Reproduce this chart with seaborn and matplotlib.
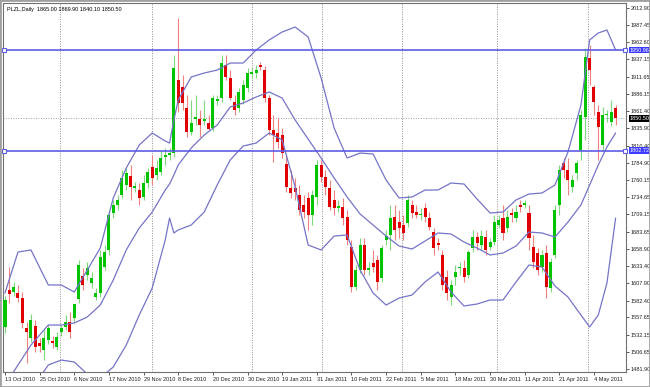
import numpy as np
import pandas as pd
import matplotlib
matplotlib.use("Agg")
import matplotlib.pyplot as plt
import matplotlib.transforms as mtransforms
from matplotlib.patches import Rectangle
import seaborn as sns

# ================================
# DATA
# ================================
header = "PLZL,Daily  1865.00 1869.90 1840.10 1850.50"

date_labels = ["13 Oct 2010", "25 Oct 2010", "6 Nov 2010", "17 Nov 2010", "29 Nov 2010",
               "8 Dec 2010", "20 Dec 2010", "30 Dec 2010", "19 Jan 2011", "31 Jan 2011",
               "10 Feb 2011", "22 Feb 2011", "5 Mar 2011", "18 Mar 2011", "30 Mar 2011",
               "11 Apr 2011", "21 Apr 2011", "4 May 2011"]
label_bars = list(range(0, 137, 8))

opens = [
    1543.5, 1597.9, 1595.0, 1593.5, 1586.1, 1542.0, 1527.3, 1545.0, 1520.0, 1509.7,
    1524.4, 1522.9, 1514.1, 1536.1, 1543.5, 1550.8, 1556.7, 1584.7, 1618.5, 1620.0,
    1608.2, 1587.6, 1593.5, 1631.7, 1656.8, 1711.2, 1723.0, 1737.7, 1752.4, 1765.6,
    1748.0, 1745.0, 1734.7, 1755.3, 1778.9, 1767.1, 1771.5, 1793.5, 1796.5, 1799.4,
    1906.8, 1896.5, 1865.6, 1830.3, 1849.5, 1849.5, 1846.5, 1843.6, 1836.2, 1875.9,
    1880.3, 1928.9, 1909.8, 1874.5, 1865.6, 1877.4, 1895.1, 1915.6, 1917.1, 1928.9,
    1921.5, 1880.3, 1833.3, 1828.9, 1825.9, 1783.3, 1748.0, 1748.0, 1737.7, 1723.0,
    1733.3, 1708.2, 1734.7, 1781.8, 1764.1, 1748.0, 1730.3, 1718.5, 1720.0, 1705.3,
    1661.2, 1602.3, 1627.3, 1664.1, 1627.3, 1637.6, 1642.0, 1615.6, 1671.5, 1678.8,
    1705.3, 1697.9, 1693.5, 1696.5, 1723.0, 1712.6, 1708.2, 1718.5, 1703.8, 1683.2,
    1667.1, 1649.4, 1617.0, 1587.6, 1617.0, 1630.3, 1630.3, 1620.0, 1659.7, 1675.9,
    1664.1, 1675.9, 1661.2, 1668.5, 1693.5, 1703.8, 1689.1, 1711.2, 1703.8, 1723.0,
    1723.0, 1711.2, 1661.2, 1652.3, 1631.7, 1652.3, 1600.9, 1649.4, 1723.0, 1784.7,
    1774.4, 1749.4, 1770.0, 1803.9, 1852.4, 1939.2, 1896.5, 1859.8, 1811.2, 1855.0,
    1845.0, 1865.0]

highs = [
    1589.1, 1631.7, 1609.7, 1605.3, 1595.0, 1550.8, 1562.6, 1553.8, 1527.3, 1539.1,
    1546.4, 1530.2, 1536.1, 1546.4, 1561.1, 1565.5, 1575.8, 1642.0, 1630.3, 1639.1,
    1624.4, 1600.9, 1656.8, 1664.1, 1715.6, 1730.3, 1737.7, 1774.4, 1777.4, 1781.8,
    1756.8, 1755.3, 1767.1, 1777.4, 1796.5, 1789.1, 1803.9, 1806.8, 1806.8, 1943.6,
    1998.0, 1914.2, 1884.8, 1877.4, 1884.8, 1862.7, 1877.4, 1855.3, 1884.8, 1884.8,
    1943.6, 1943.6, 1921.5, 1884.8, 1895.1, 1906.8, 1924.5, 1924.5, 1928.9, 1933.3,
    1927.4, 1884.8, 1855.3, 1850.9, 1836.2, 1796.5, 1774.4, 1762.7, 1752.4, 1737.7,
    1742.1, 1745.0, 1789.1, 1789.1, 1774.4, 1759.7, 1745.0, 1730.3, 1733.3, 1715.6,
    1671.5, 1634.7, 1674.4, 1674.4, 1639.1, 1656.8, 1649.4, 1664.1, 1686.2, 1723.0,
    1723.0, 1715.6, 1708.2, 1737.7, 1730.3, 1723.0, 1718.5, 1725.9, 1712.6, 1689.1,
    1674.4, 1656.8, 1627.3, 1612.6, 1634.7, 1639.1, 1642.0, 1656.8, 1686.2, 1683.2,
    1686.2, 1686.2, 1674.4, 1708.2, 1708.2, 1723.0, 1715.6, 1718.5, 1723.0, 1730.3,
    1730.3, 1723.0, 1678.8, 1659.7, 1656.8, 1664.1, 1645.0, 1723.0, 1781.8, 1792.1,
    1792.1, 1767.1, 1789.1, 1862.7, 1953.9, 1958.3, 1899.5, 1870.0, 1867.1, 1862.0,
    1877.4, 1869.9]

lows = [
    1534.7, 1578.8, 1589.1, 1580.3, 1542.0, 1490.5, 1521.4, 1506.7, 1506.7, 1494.9,
    1518.5, 1512.6, 1509.7, 1530.2, 1539.1, 1527.3, 1550.8, 1578.8, 1597.9, 1612.6,
    1600.9, 1583.2, 1587.6, 1627.3, 1649.4, 1703.8, 1715.6, 1733.3, 1745.0, 1730.3,
    1742.1, 1723.0, 1730.3, 1748.0, 1752.4, 1759.7, 1767.1, 1781.8, 1789.1, 1793.5,
    1859.8, 1862.7, 1823.0, 1825.9, 1840.6, 1823.0, 1840.6, 1833.3, 1831.8, 1870.0,
    1874.5, 1906.8, 1877.4, 1855.3, 1859.8, 1871.5, 1889.2, 1909.8, 1909.8, 1921.5,
    1874.5, 1825.9, 1786.2, 1806.8, 1792.1, 1742.1, 1733.3, 1730.3, 1708.2, 1703.8,
    1686.2, 1693.5, 1723.0, 1756.8, 1737.7, 1715.6, 1708.2, 1712.6, 1693.5, 1664.1,
    1595.0, 1597.9, 1622.9, 1620.0, 1620.0, 1624.4, 1597.9, 1609.7, 1664.1, 1656.8,
    1671.5, 1674.4, 1671.5, 1690.6, 1703.8, 1703.8, 1700.9, 1697.9, 1686.2, 1649.4,
    1656.8, 1597.9, 1583.2, 1575.8, 1605.3, 1620.0, 1609.7, 1615.6, 1653.8, 1656.8,
    1656.8, 1649.4, 1656.8, 1664.1, 1689.1, 1671.5, 1683.2, 1697.9, 1697.9, 1712.6,
    1718.5, 1656.8, 1630.3, 1620.0, 1624.4, 1586.1, 1595.0, 1645.0, 1708.2, 1762.7,
    1737.7, 1742.1, 1759.7, 1789.1, 1818.6, 1899.5, 1855.3, 1789.1, 1803.9, 1845.0,
    1839.2, 1840.1]

closes = [
    1583.2, 1592.0, 1602.3, 1586.1, 1549.4, 1536.1, 1553.8, 1514.1, 1515.5, 1527.3,
    1542.0, 1520.0, 1528.8, 1542.0, 1550.8, 1536.1, 1577.3, 1634.7, 1605.3, 1630.3,
    1615.6, 1593.5, 1646.5, 1653.8, 1708.2, 1723.0, 1730.3, 1762.7, 1770.0, 1749.4,
    1750.9, 1733.3, 1755.3, 1771.5, 1762.7, 1777.4, 1792.1, 1796.5, 1799.4, 1924.5,
    1873.0, 1873.0, 1830.3, 1843.6, 1852.4, 1840.6, 1849.5, 1834.7, 1880.3, 1878.9,
    1931.8, 1911.2, 1880.3, 1862.7, 1889.2, 1899.5, 1917.1, 1918.6, 1921.5, 1925.9,
    1880.3, 1833.3, 1825.9, 1815.6, 1799.4, 1749.4, 1740.6, 1742.1, 1715.6, 1712.6,
    1708.2, 1737.7, 1781.8, 1764.1, 1749.4, 1720.0, 1718.5, 1721.5, 1703.8, 1671.5,
    1602.3, 1627.3, 1664.1, 1627.3, 1630.3, 1631.7, 1609.7, 1659.7, 1677.3, 1703.8,
    1686.2, 1689.1, 1681.8, 1730.3, 1711.2, 1708.2, 1709.7, 1705.3, 1690.6, 1659.7,
    1664.1, 1605.3, 1593.5, 1605.3, 1624.4, 1631.7, 1617.0, 1653.8, 1675.9, 1667.1,
    1677.3, 1656.8, 1668.5, 1697.9, 1700.9, 1681.8, 1705.3, 1708.2, 1712.6, 1720.0,
    1725.9, 1674.4, 1639.1, 1627.3, 1649.4, 1602.3, 1639.1, 1715.6, 1774.4, 1774.4,
    1759.7, 1759.7, 1784.7, 1855.3, 1940.7, 1921.5, 1874.5, 1837.7, 1855.3, 1856.0,
    1859.8, 1850.5]

# Bollinger bands, read at selected bars
band_idx = [0, 3, 6, 10, 13, 16, 19, 22, 25, 28, 31, 34, 37, 38, 39, 40, 43, 46, 49, 52,
            55, 58, 61, 64, 67, 70, 73, 76, 79, 82, 85, 88, 91, 94, 97, 100, 103, 106, 109,
            112, 115, 118, 121, 124, 127, 130, 133, 135, 137, 139, 141]
upper_band = [1593.5, 1653.8, 1656.8, 1605.3, 1605.3, 1595.0, 1627.3, 1659.7, 1733.3, 1777.4,
              1811.2, 1828.9, 1817.1, 1814.1, 1848.0, 1877.4, 1911.2, 1917.1, 1921.5, 1931.8,
              1931.8, 1951.0, 1965.7, 1977.4, 1984.8, 1970.1, 1909.8, 1836.2, 1792.1, 1799.4,
              1798.0, 1759.7, 1733.3, 1734.7, 1745.0, 1745.0, 1755.3, 1753.8, 1731.8, 1711.2,
              1712.6, 1730.3, 1739.1, 1740.6, 1752.4, 1800.9, 1870.0, 1965.7, 1976.0, 1980.4,
              1951.0]
middle_band = [1458.2, 1487.6, 1517.0, 1546.4, 1546.4, 1549.4, 1558.2, 1575.8, 1612.6, 1656.8,
               1689.1, 1712.6, 1745.0, 1753.8, 1767.1, 1781.8, 1806.8, 1825.9, 1840.6, 1867.1,
               1873.0, 1881.8, 1889.2, 1880.3, 1848.0, 1820.0, 1792.1, 1762.7, 1734.7, 1709.7,
               1693.5, 1677.3, 1662.6, 1658.2, 1670.0, 1681.8, 1680.3, 1668.5, 1659.7, 1649.4,
               1652.3, 1662.6, 1683.2, 1681.8, 1675.9, 1697.9, 1723.0, 1752.4, 1781.8, 1808.3,
               1828.9]
lower_band = [1420.0, 1436.0, 1450.8, 1487.6, 1494.9, 1492.0, 1474.3, 1468.5, 1484.6, 1517.0,
              1561.1, 1600.9, 1671.5, 1703.8, 1681.8, 1686.2, 1693.5, 1712.6, 1752.4, 1789.1,
              1809.7, 1814.1, 1828.9, 1818.6, 1749.4, 1664.1, 1656.8, 1677.3, 1678.8, 1627.3,
              1593.5, 1575.8, 1586.1, 1590.6, 1609.7, 1624.4, 1595.0, 1574.4, 1577.3, 1583.2,
              1583.2, 1609.7, 1634.7, 1631.7, 1603.8, 1587.6, 1561.1, 1543.5, 1561.1, 1608.2,
              1703.8]

price_ticks = [2012.90, 1987.45, 1962.60, 1937.15, 1911.65, 1886.15, 1861.40, 1835.90,
               1810.40, 1784.90, 1760.15, 1734.65, 1709.15, 1683.65, 1658.90, 1633.40,
               1607.90, 1582.40, 1557.65, 1532.15, 1506.65, 1481.90]

level_high = 1950.96
level_low = 1802.72
last_close = 1850.50

# month separators (bar positions)
separators = [12.7, 34.0, 57.0, 73.2, 91.7, 113.6, 134.6]

# ================================
# PLOT
# ================================
sns.set_style("white")
plt.rcParams["font.family"] = ["Liberation Sans", "DejaVu Sans"]

fig = plt.figure(figsize=(6.5, 3.87), dpi=100)
ax = fig.add_axes([3 / 650, 15 / 387, 623 / 650, 369 / 387])

df = pd.DataFrame({"open": opens, "high": highs, "low": lows, "close": closes})
df["idx"] = np.arange(len(df))
up = (df["close"] >= df["open"]).to_numpy()
body_col = np.where(up, "#00c400", "#e00000")
wick_col = np.where(up, "#7ed87e", "#ee8080")

for s in separators:
    ax.axvline(s, color="#909090", lw=0.7, ls=(0, (1, 1.5)), zorder=1)

ax.vlines(df["idx"], df["low"], df["high"], colors=wick_col, lw=0.8, zorder=2)
body_bottom = df[["open", "close"]].min(axis=1)
body_height = (df["close"] - df["open"]).abs().clip(lower=1.5)
ax.bar(df["idx"], body_height, bottom=body_bottom, width=0.7, color=body_col,
       linewidth=0, zorder=3)

bands = pd.DataFrame({"idx": band_idx, "upper": upper_band,
                      "middle": middle_band, "lower": lower_band})
for col in ["upper", "middle", "lower"]:
    sns.lineplot(data=bands, x="idx", y=col, ax=ax, color="#7474c8", lw=0.9, zorder=4)

# horizontal levels
x0, x1 = -0.46, 143.4
for lvl in [level_high, level_low]:
    ax.axhline(lvl, color="#5c5ce6", lw=1.2, zorder=5)
    ax.plot([x0 + 0.3], [lvl], marker="s", ms=2.5, mfc="white", mec="#5c5ce6",
            mew=0.8, clip_on=False, zorder=6)
    ax.plot([x1 - 0.3], [lvl], marker="s", ms=2.5, mfc="white", mec="#5c5ce6",
            mew=0.8, clip_on=False, zorder=6)
ax.axhline(last_close, color="#808080", lw=0.6, ls=(0, (1, 2)), zorder=1)

ax.set_xlim(x0, x1)
ax.set_ylim(1477.3, 2020.1)
ax.set_xlabel("")
ax.set_ylabel("")

ax.yaxis.tick_right()
ax.set_yticks(price_ticks)
ax.set_yticklabels([f"{v:.2f}" for v in price_ticks])
ax.set_xticks(label_bars)
ax.set_xticklabels(date_labels)
for lbl in ax.get_xticklabels():
    lbl.set_horizontalalignment("left")
ax.tick_params(axis="both", length=2, width=0.6, color="#404040", labelsize=4,
               pad=1.5, labelcolor="#202020")
ax.tick_params(axis="y", right=True, left=False)
ax.tick_params(axis="x", bottom=True)

for sp in ax.spines.values():
    sp.set_color("#707070")
    sp.set_linewidth(0.8)

trans = mtransforms.blended_transform_factory(ax.transAxes, ax.transData)
for val, fc in [(level_high, "#3c3cff"), (last_close, "black"), (level_low, "#3c3cff")]:
    ax.text(1.006, val, f"{val:.2f}", transform=trans, fontsize=4, color="white",
            ha="left", va="center", zorder=7,
            bbox=dict(boxstyle="square,pad=0.15", fc=fc, ec="none"))

ax.text(0.007, 0.988, header, transform=ax.transAxes, fontsize=4, ha="left", va="top",
        color="black")

fig.patches.append(Rectangle((0, 0), 1, 1, transform=fig.transFigure, fill=False,
                             ec="#a0a0a0", lw=2))

fig.savefig("out.png", dpi=100)
